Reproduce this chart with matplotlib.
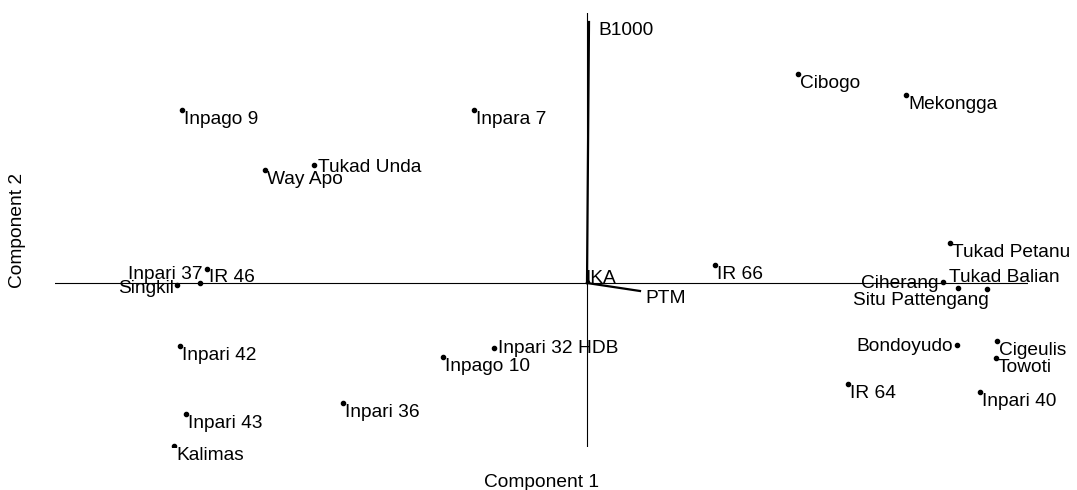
#biplot de componentes principales de variedades de arroz
import numpy as np
import matplotlib
matplotlib.use("Agg")
from matplotlib import pyplot as plt

plt.rcParams['font.family'] = ['Liberation Sans', 'DejaVu Sans']

#puntuaciones de las variedades (componente 1, componente 2)
variedades = ["Cibogo", "Mekongga", "Inpago 9", "Inpara 7", "Tukad Unda", "Way Apo",
              "Tukad Petanu", "IR 66", "Inpari 37", "IR 46", "Singkil", "Ciherang",
              "Tukad Balian", "Situ Pattengang", "Bondoyudo", "Cigeulis", "Towoti",
              "Inpari 32 HDB", "Inpago 10", "Inpari 42", "Inpari 36", "Inpari 43",
              "Kalimas", "IR 64", "Inpari 40"]
comp1 = [2.11, 3.19, -4.05, -1.13, -2.73, -3.22,
         3.63, 1.28, -3.80, -3.87, -4.10, 3.56,
         3.71, 4.00, 3.70, 4.10, 4.09,
         -0.93, -1.44, -4.07, -2.44, -4.01,
         -4.13, 2.61, 3.93]
comp2 = [2.09, 1.88, 1.73, 1.73, 1.18, 1.13,
         0.40, 0.18, 0.14, 0.00, -0.02, 0.01,
         -0.05, -0.06, -0.62, -0.58, -0.75,
         -0.65, -0.74, -0.63, -1.20, -1.31,
         -1.63, -1.01, -1.09]

#cargas de las variables
variables = ["B1000", "PTM", "IKA"]
carga1 = [0.02, 0.53, 0.02]
carga2 = [2.61, -0.08, 0.01]

#ubicacion de las etiquetas (alineacion y desplazamiento en pixeles)
estilo_def = ("left", "top", 2, -1)
estilos = {
    "Tukad Unda": ("left", "center", 4, -2),
    "Inpari 37": ("right", "center", -4, -5),
    "IR 46": ("left", "center", 9, 6),
    "Singkil": ("right", "center", -3, -3),
    "Ciherang": ("right", "center", -4, -1),
    "Tukad Balian": ("left", "center", -9, 11),
    "Situ Pattengang": ("right", "center", 2, -11),
    "Bondoyudo": ("right", "center", -4, -1),
    "Inpari 32 HDB": ("left", "center", 4, 0),
}

fig = plt.figure(figsize=(10.77, 4.9), dpi=100)
ax = fig.add_axes([55/1077, 43/490, 973/1077, 434/490])
ax.set_xlim(-5.32, 4.41)
ax.set_ylim(-1.64, 2.70)
ax.axis("off")

#lineas de los ejes
ax.axhline(0, color="black", lw=0.8)
ax.axvline(0, color="black", lw=0.8)

#puntos
ax.scatter(comp1, comp2, s=9, color="black", zorder=3)
for nombre, x, y in zip(variedades, comp1, comp2):
    ha, va, dx, dy = estilos.get(nombre, estilo_def)
    ax.annotate(nombre, (x, y), xytext=(dx, dy), textcoords="offset pixels",
                ha=ha, va=va, fontsize=13.8)

#vectores de las variables
for nombre, x, y in zip(variables, carga1, carga2):
    ax.plot([0, x], [0, y], color="black", lw=1.6)
estilos_var = {"B1000": ("left", "center", 9, -8),
               "PTM": ("left", "center", 5, -7),
               "IKA": ("left", "center", -4, 4)}
for nombre, x, y in zip(variables, carga1, carga2):
    ha, va, dx, dy = estilos_var[nombre]
    ax.annotate(nombre, (x, y), xytext=(dx, dy), textcoords="offset pixels",
                ha=ha, va=va, fontsize=13.8)

fig.text(542/1077, 1 - 482/490, "Component 1", ha="center", va="center", fontsize=13.8)
fig.text(18/1077, 1 - 230/490, "Component 2", ha="center", va="center",
         rotation=90, fontsize=13.8)

fig.savefig("out.png", dpi=100)
